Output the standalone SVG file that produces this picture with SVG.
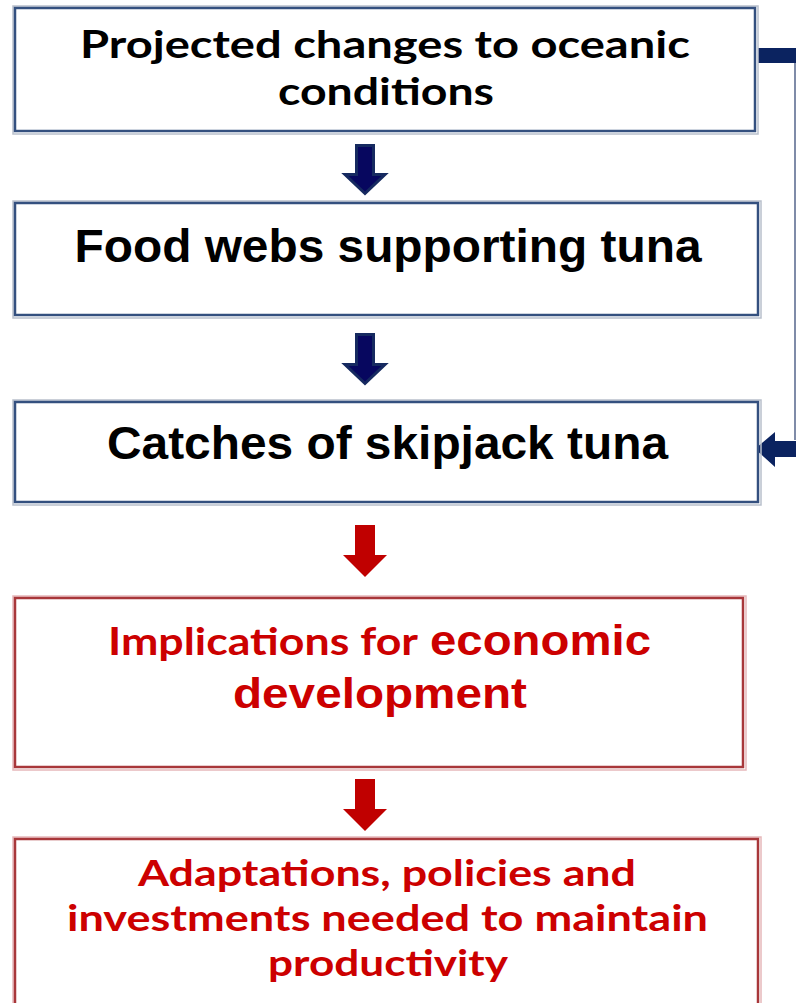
<svg xmlns="http://www.w3.org/2000/svg" width="796" height="1003" viewBox="0 0 796 1003">
<style>
.bx{fill:#fff;stroke:#34507f;stroke-width:2.5}
.rx{fill:#fff;stroke:#a8373a;stroke-width:2.5}
.sh{fill:none;stroke:#b9c0cc;stroke-width:1.5}
.rsh{fill:none;stroke:#e6b8ba;stroke-width:1.5}
.cal{font-family:Lato,"Open Sans",sans-serif;font-weight:bold}
.ari{font-family:"Liberation Sans",Arial,sans-serif;font-weight:bold}
.blk{fill:#000}
.red{fill:#cc0000}
.barr{fill:#07075f;stroke:#162a60;stroke-width:3;stroke-linejoin:miter}
.rarr{fill:#c00000}
.nav{fill:#0b2360}
</style>
<rect width="796" height="1003" fill="#fff"/>

<g id="connectors">
  <polygon class="barr" points="356.5,145.5 373.5,145.5 373.5,174.5 385,174.5 365,193.5 345,174.5 356.5,174.5"/>
  <polygon class="barr" points="356.5,334.5 373.5,334.5 373.5,364.5 385,364.5 365,383.5 345,364.5 356.5,364.5"/>
  <polygon class="rarr" points="355,525 375,525 375,555 387,555 365,577 343,555 355,555"/>
  <polygon class="rarr" points="355,779 375,779 375,809 387,809 365,831 343,809 355,809"/>
  <rect class="nav" x="758" y="48" width="38" height="15"/>
  <line x1="795" y1="63" x2="795" y2="440" stroke="#7f8ba8" stroke-width="2"/>
  <polygon class="nav" points="755,449 775,432 775,441 796,441 796,457 775,457 775,467"/>
</g>

<g id="node1">
  <rect class="sh" x="13" y="6" width="745" height="128"/>
  <rect class="bx" x="15" y="8" width="740" height="123"/>
  <text class="cal blk" x="385" y="58" font-size="38" text-anchor="middle" textLength="610" lengthAdjust="spacingAndGlyphs">Projected changes to oceanic</text>
  <text class="cal blk" x="386" y="105" font-size="38" text-anchor="middle" textLength="216" lengthAdjust="spacingAndGlyphs">conditions</text>
</g>

<g id="node2">
  <rect class="sh" x="13" y="201" width="748" height="117"/>
  <rect class="bx" x="15" y="203" width="743" height="112"/>
  <text class="ari blk" x="388" y="262" font-size="46" text-anchor="middle" textLength="627" lengthAdjust="spacingAndGlyphs">Food webs supporting tuna</text>
</g>

<g id="node3">
  <rect class="sh" x="13" y="400" width="748" height="105"/>
  <rect class="bx" x="15" y="402" width="743" height="100"/>
  <text class="ari blk" x="387.5" y="459" font-size="46" text-anchor="middle" textLength="561" lengthAdjust="spacingAndGlyphs">Catches of skipjack tuna</text>
</g>

<g id="node4">
  <rect class="rsh" x="13" y="596" width="733" height="174"/>
  <rect class="rx" x="15" y="598" width="728" height="169"/>
  <text class="cal red" x="108" y="655" font-size="38" textLength="310" lengthAdjust="spacingAndGlyphs">Implications for</text>
  <text class="ari red" x="430" y="655" font-size="42" textLength="221" lengthAdjust="spacingAndGlyphs">economic</text>
  <text class="ari red" x="380" y="708" font-size="42" text-anchor="middle" textLength="294" lengthAdjust="spacingAndGlyphs">development</text>
</g>

<g id="node5">
  <rect class="rsh" x="13" y="837" width="748" height="200"/>
  <rect class="rx" x="15" y="839" width="743" height="200"/>
  <text class="cal red" x="387" y="886" font-size="37" text-anchor="middle" textLength="498" lengthAdjust="spacingAndGlyphs">Adaptations, policies and</text>
  <text class="cal red" x="387.5" y="931" font-size="37" text-anchor="middle" textLength="641" lengthAdjust="spacingAndGlyphs">investments needed to maintain</text>
  <text class="cal red" x="388" y="976" font-size="37" text-anchor="middle" textLength="240" lengthAdjust="spacingAndGlyphs">productivity</text>
</g>
</svg>
